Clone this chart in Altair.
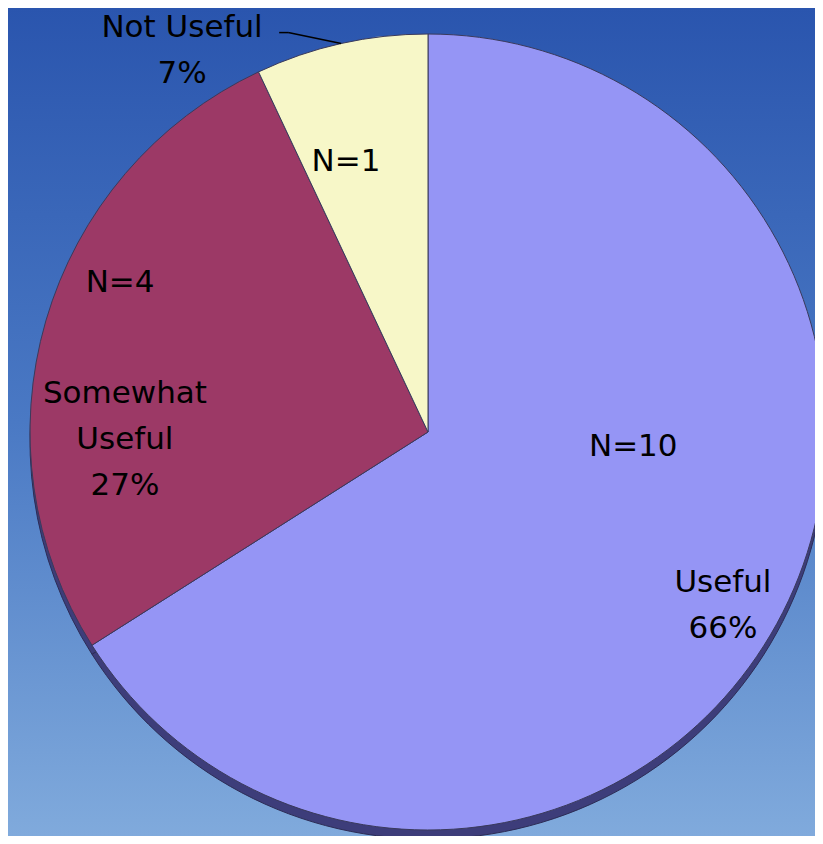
import altair as alt
import pandas as pd

# ---- data ----
categories = ["Useful", "Somewhat Useful", "Not Useful"]
percents = [66, 27, 7]
counts = [10, 4, 1]
outer_labels = ["Useful", "Somewhat\nUseful", "Not Useful"]
slice_colors = ["#9595f5", "#9c3966", "#f7f7c8"]

df = pd.DataFrame({
    "cat": categories,
    "pct": percents,
    "n": counts,
    "name": outer_labels,
    "order": list(range(len(categories))),
})

W, H = 807, 828
CX, CY = 420, 424
R = 398
FONT = "DejaVu Sans"
FS = 31
LH = 46

theta_scale = alt.Scale(domain=[0, 100])
color_scale = alt.Scale(domain=categories, range=slice_colors)

# background gradient
bg = alt.Chart(pd.DataFrame({"a": [0]})).mark_rect(
    fill=alt.Gradient(
        gradient="linear",
        stops=[
            alt.GradientStop(color="#2a55ae", offset=0),
            alt.GradientStop(color="#4a79c4", offset=0.5),
            alt.GradientStop(color="#80aadc", offset=1),
        ],
        x1=0, x2=0, y1=0, y2=1,
    )
).encode(x=alt.value(0), x2=alt.value(W), y=alt.value(0), y2=alt.value(H))

base = alt.Chart(df)

# 3D depth edge (darker disc below)
depth = base.mark_arc(radius=R, fill="#3d3d7a", stroke="#2c2c55", strokeWidth=1).encode(
    theta=alt.Theta("pct:Q", stack=True, scale=theta_scale),
    order=alt.Order("order:Q"),
    x=alt.value(CX),
    y=alt.value(CY + 9),
)

pie = base.mark_arc(radius=R, stroke="#3a3a5c", strokeWidth=1).encode(
    theta=alt.Theta("pct:Q", stack=True, scale=theta_scale),
    color=alt.Color("cat:N", scale=color_scale, legend=None),
    order=alt.Order("order:Q"),
    x=alt.value(CX),
    y=alt.value(CY),
)

stacked = base.transform_stack(
    stack="pct", groupby=[], as_=["p0", "p1"], sort=[alt.SortField("order")]
).transform_calculate(
    mid="(datum.p0 + datum.p1) / 2",
    n_label="'N=' + datum.n",
    outer="datum.name + '\\n' + datum.pct + '%'",
)


def label(cat, field, rad, dx, dy):
    return stacked.transform_filter(alt.datum.cat == cat).mark_text(
        font=FONT, fontSize=FS, color="black", align="center", baseline="middle",
        lineBreak="\n", lineHeight=LH, radius=rad, dx=dx, dy=dy,
    ).encode(
        theta=alt.Theta("mid:Q", scale=theta_scale),
        text=alt.Text(f"{field}:N"),
        x=alt.value(CX),
        y=alt.value(CY),
    )


labels = [
    label("Useful", "outer", 340, -3, 10 - LH / 2),
    label("Useful", "n_label", 200, 30, -81),
    label("Somewhat Useful", "outer", 300, -15, 92 - LH),
    label("Somewhat Useful", "n_label", 330, 9, -57),
    label("Not Useful", "n_label", 280, -21, 3),
    label("Not Useful", "outer", 440, -150, 48 - LH / 2),
]

# leader line for "Not Useful"
leader_pts = stacked.transform_filter(alt.datum.cat == "Not Useful").transform_calculate(
    ex=f"{CX} + {R} * sin(datum.mid / 100 * 2 * PI)",
    ey=f"{CY} - {R} * cos(datum.mid / 100 * 2 * PI)",
).transform_calculate(
    sx="datum.ex - 53",
    sy="datum.ey - 11",
    hx="datum.ex - 62",
)
leader1 = leader_pts.mark_rule(color="black", strokeWidth=1.5).encode(
    x=alt.X("sx:Q", scale=None), y=alt.Y("sy:Q", scale=None),
    x2="ex:Q", y2="ey:Q",
)
leader2 = leader_pts.mark_rule(color="black", strokeWidth=1.5).encode(
    x=alt.X("hx:Q", scale=None), y=alt.Y("sy:Q", scale=None),
    x2="sx:Q", y2="sy:Q",
)

chart = alt.layer(bg, depth, pie, *labels, leader1, leader2).properties(
    width=W, height=H, padding=0, autosize=alt.AutoSizeParams(type="none"),
).configure_view(stroke=None).configure(background="#4a79c4")

chart.save("out.html", embed_options={"renderer": "svg", "actions": False})
